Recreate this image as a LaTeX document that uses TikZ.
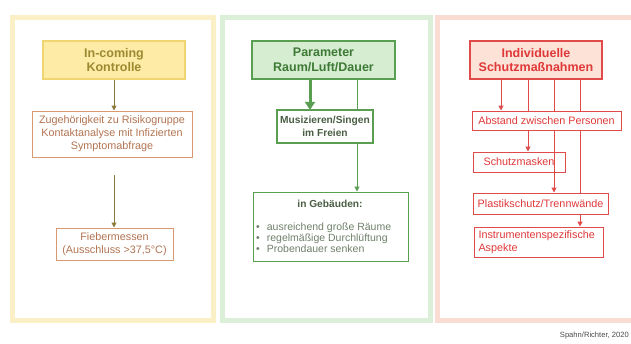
\documentclass[tikz,border=0pt]{standalone}
\usepackage{fontspec}
\setmainfont{Liberation Sans}
\usetikzlibrary{arrows.meta}
\definecolor{ypanel}{HTML}{FBEFC6}
\definecolor{gpanel}{HTML}{DCEFD8}
\definecolor{rpanel}{HTML}{F9DDD3}
\definecolor{yfill}{HTML}{FDEBA6}
\definecolor{ydraw}{HTML}{F2D470}
\definecolor{ytext}{HTML}{9C8A30}
\definecolor{yarrow}{HTML}{8C7A3C}
\definecolor{bdraw}{HTML}{D89870}
\definecolor{btext}{HTML}{B27452}
\definecolor{gfill}{HTML}{D6EDD1}
\definecolor{gdraw}{HTML}{5A9E52}
\definecolor{gtext}{HTML}{3E7A35}
\definecolor{gdark}{HTML}{4A5E44}
\definecolor{ggray}{HTML}{6F806A}
\definecolor{rfill}{HTML}{FCE2D7}
\definecolor{rdraw}{HTML}{E04A4A}
\definecolor{rtext}{HTML}{E03838}
\tikzset{
  panel/.style={line width=5pt},
  titlebox/.style={line width=1.2pt, font=\fontsize{12.5}{14.5}\selectfont\bfseries, align=center, inner sep=0pt},
  smallbox/.style={line width=1pt, fill=white, font=\fontsize{10.8}{12.8}\selectfont, align=center, inner sep=0pt},
  arr/.style={-{Triangle[length=5pt,width=5pt]}, line width=1pt},
}
\begin{document}
\begin{tikzpicture}[x=1pt,y=-1pt]
\useasboundingbox (0,0) rectangle (631,343);
\fill[white] (0,0) rectangle (631,343);
% panels
\draw[panel, ypanel] (12,17) rectangle (213,320);
\draw[panel, gpanel] (222,17) rectangle (430,320);
\draw[panel, rpanel] (437,17) rectangle (640,320);

% ---- panel 1
\node[titlebox, fill=yfill, draw=ydraw, text=ytext, minimum width=142pt, minimum height=38pt] (ink) at (114,60) {In-coming\\Kontrolle};
\node[smallbox, draw=bdraw, text=btext, minimum width=160pt, minimum height=46pt] (risk) at (112,134) {Zugehörigkeit zu Risikogruppe\\Kontaktanalyse mit Infizierten\\Symptomabfrage};
\node[smallbox, draw=bdraw, text=btext, minimum width=117pt, minimum height=32pt] (fieb) at (114.5,244) {Fiebermessen\\(Ausschluss >37,5°C)};
\coordinate (a2s) at (114,175);
\draw[arr, yarrow] (ink.south -| 114,0) -- (risk.north -| 114,0);
\draw[arr, yarrow] (a2s) -- (fieb.north -| 114,0);

% ---- panel 2
\node[titlebox, fill=gfill, draw=gdraw, text=gtext, minimum width=143pt, minimum height=38pt] (par) at (323.5,60) {Parameter\\Raum/Luft/Dauer};
\node[smallbox, draw=gdraw, line width=2.2pt, text=gdark, font=\fontsize{10.2}{13}\selectfont\bfseries, minimum width=96pt, minimum height=33pt] (mus) at (325,126.5) {Musizieren/Singen\\im Freien};
\node[draw=gdraw, line width=1pt, fill=white, minimum width=155pt, minimum height=69pt, inner sep=0pt] (geb) at (330.5,226.5) {};
\node[text=gdark, font=\fontsize{10.2}{12}\selectfont\bfseries, inner sep=0pt] (gebh) at (330,204) {in Gebäuden:};
\node[text=ggray, font=\fontsize{10.5}{11}\selectfont, align=left, anchor=north west, inner sep=0pt] (gebl) at (256,222.5)
  {\textbullet\hspace{7pt}ausreichend große Räume\\\textbullet\hspace{7pt}regelmäßige Durchlüftung\\\textbullet\hspace{7pt}Probendauer senken};
\draw[-{Triangle[length=8pt,width=10pt]}, line width=3pt, gdraw] (par.south -| 310,0) -- ([yshift=-1pt]mus.north -| 310,0);
\draw[gdraw, line width=1pt] (par.south -| 357,0) -- (mus.north -| 357,0);
\draw[arr, gdraw] (mus.south -| 357,0) -- (geb.north -| 357,0);

% ---- panel 3
\node[titlebox, fill=rfill, draw=rdraw, text=rtext, minimum width=132pt, minimum height=38pt] (ind) at (536,60) {Individuelle\\Schutzmaßnahmen};
\node[smallbox, draw=rdraw, text=rtext, minimum width=149pt, minimum height=19pt] (abs) at (546.5,120.5) {Abstand zwischen Personen};
\node[smallbox, draw=rdraw, text=rtext, minimum width=92pt, minimum height=20pt] (mask) at (519,162) {Schutzmasken};
\node[smallbox, draw=rdraw, text=rtext, minimum width=135pt, minimum height=21pt] (plast) at (540.5,203.5) {Plastikschutz/Trennwände};
\node[smallbox, draw=rdraw, text=rtext, align=left, minimum width=129pt, minimum height=30pt, text width=120pt] (instr) at (538.5,242) {Instrumentenspezifische\\Aspekte};
\begin{scope}[on background layer/.style={}]
\end{scope}
\draw[arr, rdraw] (ind.south -| 501,0) -- (abs.north -| 501,0);
\draw[rdraw, line width=1pt] (ind.south -| 528,0) -- (abs.north -| 528,0);
\draw[arr, rdraw] (abs.south -| 528,0) -- (mask.north -| 528,0);
\draw[rdraw, line width=1pt] (ind.south -| 554,0) -- (abs.north -| 554,0);
\draw[arr, rdraw] (abs.south -| 554,0) -- (plast.north -| 554,0);
\draw[rdraw, line width=1pt] (ind.south -| 580,0) -- (abs.north -| 580,0);
\draw[rdraw, line width=1pt] (abs.south -| 580,0) -- (plast.north -| 580,0);
\draw[arr, rdraw] (plast.south -| 580,0) -- (instr.north -| 580,0);

% credit
\node[text=black!70, font=\fontsize{7.6}{9}\selectfont, anchor=east, inner sep=0pt] (cred) at (629,336) {Spahn/Richter, 2020};
\end{tikzpicture}
\end{document}
